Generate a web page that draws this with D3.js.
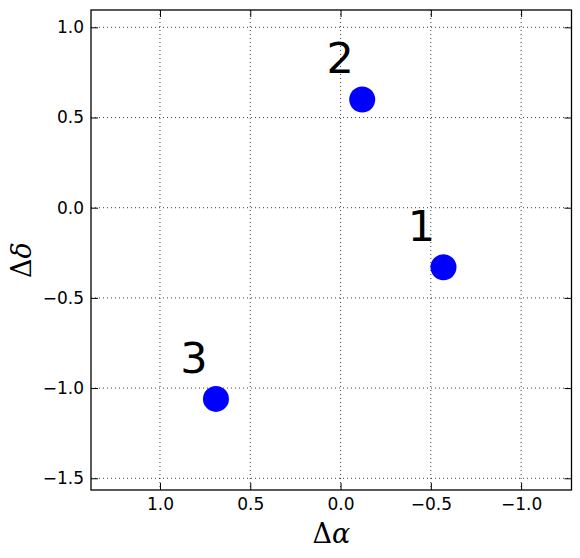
<!DOCTYPE html>
<html>
<head>
<meta charset="utf-8">
<script src="https://cdn.jsdelivr.net/npm/d3@7"></script>
<style>
  body { margin: 0; background: #fff; }
  .tick text { font-family: "DejaVu Sans", sans-serif; font-size: 17px; fill: #000; }
  .tick line { stroke: #000; stroke-width: 1; }
  .grid line { stroke: #000; stroke-width: 1; stroke-dasharray: 1,3; opacity: 0.75; }
  .math { font-family: "DejaVu Serif", serif; font-size: 27px; }
</style>
</head>
<body>
<svg width="580" height="558"></svg>
<script>
// source labels and offsets (arcsec)
var labels = ["1", "2", "3"];
var dAlpha = [-0.57, -0.12, 0.69];
var dDelta = [-0.33, 0.60, -1.06];

var xTicks = [1.0, 0.5, 0.0, -0.5, -1.0];
var yTicks = [1.0, 0.5, 0.0, -0.5, -1.0, -1.5];

var svg = d3.select("svg"),
    margin = {top: 10, right: 8.5, bottom: 68, left: 91},
    width = svg.attr("width") - margin.left - margin.right,
    height = svg.attr("height") - margin.top - margin.bottom;

// RA axis runs backwards (east to the left)
var x = d3.scaleLinear().domain([1.382, -1.279]).range([0, width]),
    y = d3.scaleLinear().domain([-1.565, 1.096]).range([height, 0]);

var fmt = d3.format(".1f");

var g = svg.append("g")
    .attr("transform", "translate(" + margin.left + "," + margin.top + ")");

// dotted grid
g.append("g").attr("class", "grid")
  .selectAll("line").data(xTicks).enter().append("line")
    .attr("x1", function(d) { return x(d); })
    .attr("x2", function(d) { return x(d); })
    .attr("y1", 0).attr("y2", height);

g.append("g").attr("class", "grid")
  .selectAll("line").data(yTicks).enter().append("line")
    .attr("y1", function(d) { return y(d); })
    .attr("y2", function(d) { return y(d); })
    .attr("x1", 0).attr("x2", width);

// ticks on all four sides, pointing in
g.append("g")
    .attr("transform", "translate(0," + height + ")")
    .call(d3.axisBottom(x).tickValues(xTicks).tickFormat(fmt).tickSizeInner(-7).tickSizeOuter(0).tickPadding(8))
    .call(function(a) { a.select(".domain").remove(); });

g.append("g")
    .call(d3.axisTop(x).tickValues(xTicks).tickFormat("").tickSizeInner(-7).tickSizeOuter(0))
    .call(function(a) { a.select(".domain").remove(); });

g.append("g")
    .call(d3.axisLeft(y).tickValues(yTicks).tickFormat(fmt).tickSizeInner(-7).tickSizeOuter(0).tickPadding(7))
    .call(function(a) { a.select(".domain").remove(); });

g.append("g")
    .attr("transform", "translate(" + width + ",0)")
    .call(d3.axisRight(y).tickValues(yTicks).tickFormat("").tickSizeInner(-7).tickSizeOuter(0))
    .call(function(a) { a.select(".domain").remove(); });

g.append("rect")
    .attr("width", width)
    .attr("height", height)
    .attr("fill", "none")
    .attr("stroke", "#000")
    .attr("stroke-width", 1.3);

// points
g.selectAll(".pt")
  .data(labels)
  .enter().append("circle")
    .attr("class", "pt")
    .attr("cx", function(d, i) { return x(dAlpha[i]); })
    .attr("cy", function(d, i) { return y(dDelta[i]); })
    .attr("r", 13)
    .attr("fill", "#0000ff");

g.selectAll(".lbl")
  .data(labels)
  .enter().append("text")
    .attr("class", "lbl")
    .attr("x", function(d, i) { return x(dAlpha[i]) - 22; })
    .attr("y", function(d, i) { return y(dDelta[i]) - 26; })
    .attr("text-anchor", "middle")
    .style("font-family", "DejaVu Sans, sans-serif")
    .style("font-size", "43px")
    .text(function(d) { return d; });

// axis labels
var xl = svg.append("text")
    .attr("class", "math")
    .attr("x", margin.left + width / 2)
    .attr("y", 543)
    .attr("text-anchor", "middle");
xl.append("tspan").text("\u0394");
xl.append("tspan").style("font-style", "italic").text("\u03b1");

var yl = svg.append("text")
    .attr("class", "math")
    .attr("transform", "translate(31," + (margin.top + height / 2 + 10) + ") rotate(-90)")
    .attr("text-anchor", "middle");
yl.append("tspan").text("\u0394");
yl.append("tspan").style("font-style", "italic").text("\u03b4");
</script>
</body>
</html>
